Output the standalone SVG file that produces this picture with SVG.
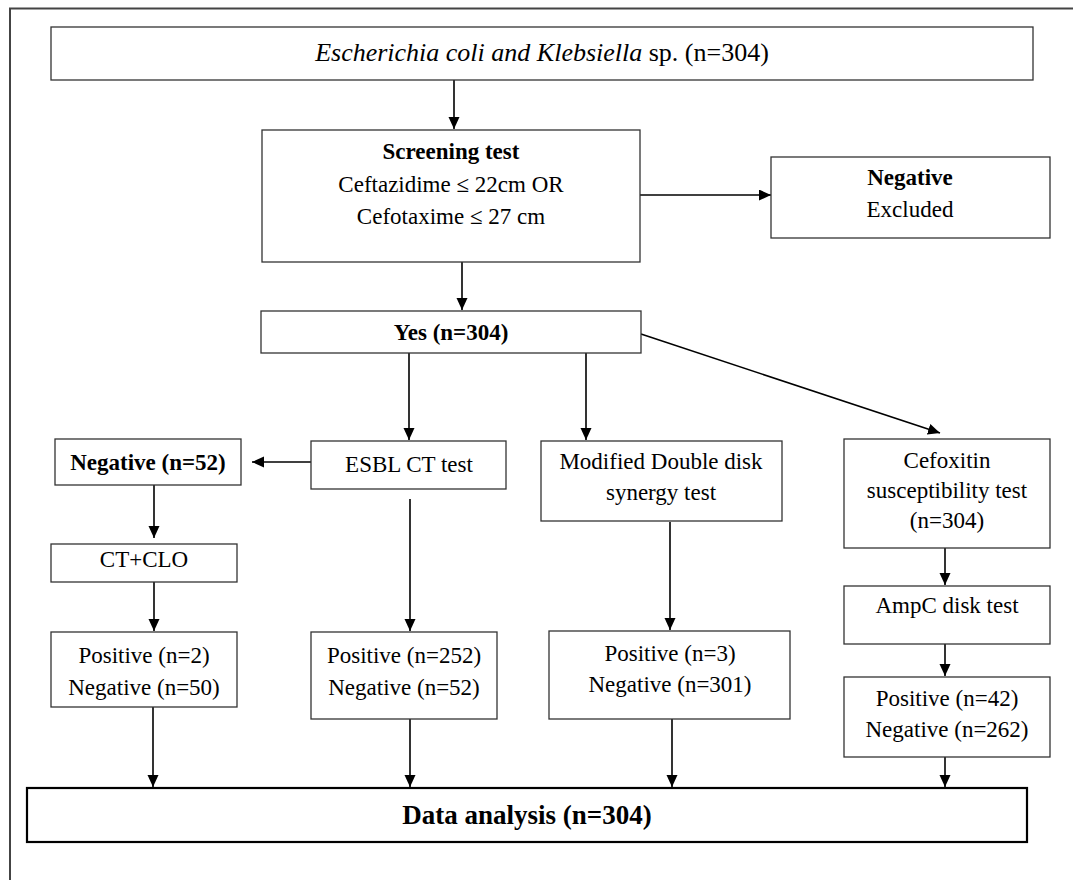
<svg xmlns="http://www.w3.org/2000/svg" width="1073" height="880" viewBox="0 0 1073 880">
<defs>
<marker id="ah" markerUnits="userSpaceOnUse" markerWidth="13" markerHeight="12" refX="12" refY="5.5" orient="auto">
<path d="M0,0 L12,5.5 L0,11 z" fill="#000"/>
</marker>
<style>
.box{fill:#fff;stroke:#333;stroke-width:1.3}
.bold-box{fill:#fff;stroke:#000;stroke-width:2.2}
.t{font-family:"Liberation Serif","Times New Roman",serif;font-size:23px;fill:#000;text-anchor:middle}
.b{font-weight:bold}
.c{stroke:#000;stroke-width:1.6;fill:none;marker-end:url(#ah)}
</style>
</defs>
<rect x="0" y="0" width="1073" height="880" fill="#fff"/>
<rect x="10" y="8.5" width="1100" height="900" fill="none" stroke="#444" stroke-width="2"/>

<g id="connectors">
<line class="c" x1="454" y1="80" x2="454" y2="129"/>
<line class="c" x1="640" y1="195" x2="771" y2="195"/>
<line class="c" x1="462" y1="262" x2="462" y2="310"/>
<line class="c" x1="409" y1="353" x2="409" y2="440"/>
<line class="c" x1="586" y1="353" x2="586" y2="440"/>
<line class="c" x1="641" y1="334" x2="940" y2="433"/>
<line class="c" x1="311" y1="462" x2="252" y2="462"/>
<line class="c" x1="154" y1="485" x2="154" y2="538"/>
<line class="c" x1="154" y1="582" x2="154" y2="631"/>
<line class="c" x1="153" y1="707" x2="153" y2="787"/>
<line class="c" x1="410" y1="499" x2="410" y2="631"/>
<line class="c" x1="410" y1="719" x2="410" y2="787"/>
<line class="c" x1="670" y1="522" x2="670" y2="630"/>
<line class="c" x1="672" y1="719" x2="672" y2="787"/>
<line class="c" x1="945" y1="548" x2="945" y2="585"/>
<line class="c" x1="945" y1="644" x2="945" y2="676"/>
<line class="c" x1="945" y1="757" x2="945" y2="787"/>
</g>

<g id="source">
<rect class="box" x="51" y="27" width="982" height="53"/>
<text class="t" x="542" y="61" style="font-size:26px"><tspan font-style="italic">Escherichia coli and Klebsiella</tspan> sp. (n=304)</text>
</g>

<g id="screening">
<rect class="box" x="262" y="130" width="378" height="132"/>
<text class="t b" x="451" y="159">Screening test</text>
<text class="t" x="451" y="192">Ceftazidime ≤ 22cm OR</text>
<text class="t" x="451" y="224">Cefotaxime ≤ 27 cm</text>
</g>

<g id="negative-excluded">
<rect class="box" x="771" y="157" width="279" height="81"/>
<text class="t b" x="910" y="185">Negative</text>
<text class="t" x="910" y="217">Excluded</text>
</g>

<g id="yes">
<rect class="box" x="261" y="311" width="380" height="42"/>
<text class="t b" x="451" y="340">Yes (n=304)</text>
</g>

<g id="esbl">
<rect class="box" x="311" y="441" width="195" height="48"/>
<text class="t" x="409" y="472">ESBL CT test</text>
</g>

<g id="neg52">
<rect class="box" x="55" y="439" width="186" height="46"/>
<text class="t b" x="148" y="470">Negative (n=52)</text>
</g>

<g id="ctclo">
<rect class="box" x="51" y="544" width="186" height="38"/>
<text class="t" x="144" y="567">CT+CLO</text>
</g>

<g id="pos2">
<rect class="box" x="51" y="632" width="186" height="75"/>
<text class="t" x="144" y="663">Positive (n=2)</text>
<text class="t" x="144" y="695">Negative (n=50)</text>
</g>

<g id="pos252">
<rect class="box" x="311" y="632" width="186" height="87"/>
<text class="t" x="404" y="663">Positive (n=252)</text>
<text class="t" x="404" y="695">Negative (n=52)</text>
</g>

<g id="mdds">
<rect class="box" x="541" y="441" width="241" height="80"/>
<text class="t" x="661" y="469">Modified Double disk</text>
<text class="t" x="661" y="500">synergy test</text>
</g>

<g id="pos3">
<rect class="box" x="549" y="631" width="241" height="88"/>
<text class="t" x="670" y="661">Positive (n=3)</text>
<text class="t" x="670" y="692">Negative (n=301)</text>
</g>

<g id="cefoxitin">
<rect class="box" x="844" y="439" width="206" height="109"/>
<text class="t" x="947" y="468">Cefoxitin</text>
<text class="t" x="947" y="498">susceptibility test</text>
<text class="t" x="947" y="528">(n=304)</text>
</g>

<g id="ampc">
<rect class="box" x="844" y="586" width="206" height="58"/>
<text class="t" x="947" y="613">AmpC disk test</text>
</g>

<g id="pos42">
<rect class="box" x="844" y="677" width="206" height="80"/>
<text class="t" x="947" y="706">Positive (n=42)</text>
<text class="t" x="947" y="737">Negative (n=262)</text>
</g>

<g id="data">
<rect class="bold-box" x="27" y="788" width="1000" height="54"/>
<text class="t b" x="527" y="824" style="font-size:27px">Data analysis (n=304)</text>
</g>
</svg>
